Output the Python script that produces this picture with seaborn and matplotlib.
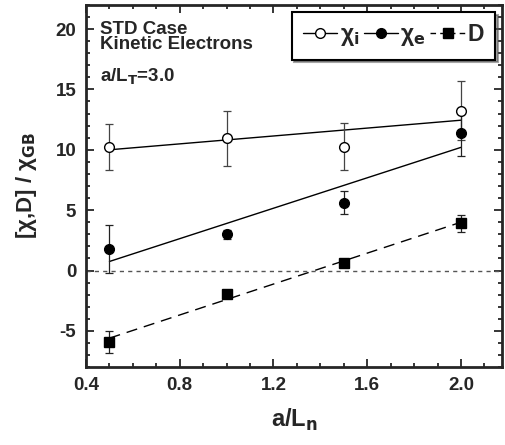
import numpy as np
import pandas as pd
import matplotlib
matplotlib.use("Agg")
import matplotlib.pyplot as plt
from matplotlib.lines import Line2D
from matplotlib.ticker import MultipleLocator
import seaborn as sns

# data
x_pts = [0.5, 1.0, 1.5, 2.0]
chi_i = [10.25, 10.95, 10.25, 13.25]
chi_i_err = [1.9, 2.3, 1.95, 2.45]
chi_e = [1.8, 3.0, 5.6, 11.4]
chi_e_err = [2.0, 0.35, 0.95, 1.9]
dd = [-5.9, -1.95, 0.6, 3.9]
dd_err = [0.9, 0.35, 0.15, 0.7]

x_fit = [0.5, 2.0]
chi_i_fit = [10.0, 12.45]
chi_e_fit = [0.75, 10.2]
dd_fit = [-5.6, 4.0]

sns.set_style("ticks")
plt.rcParams['font.family'] = ['Liberation Sans', 'DejaVu Sans']
plt.rcParams['font.weight'] = 'bold'
plt.rcParams['axes.unicode_minus'] = False

fig = plt.figure(figsize=(5.06, 4.45), dpi=100)
ax = fig.add_axes([0.170, 0.175, 0.822, 0.814])

fits = pd.DataFrame({'x': x_fit * 3,
                     'y': chi_i_fit + chi_e_fit + dd_fit,
                     's': ['i'] * 2 + ['e'] * 2 + ['d'] * 2})
sns.lineplot(data=fits[fits.s == 'i'], x='x', y='y', color='black', lw=1.0, ax=ax)
sns.lineplot(data=fits[fits.s == 'e'], x='x', y='y', color='black', lw=1.0, ax=ax)
sns.lineplot(data=fits[fits.s == 'd'], x='x', y='y', color='black', lw=1.0, ax=ax,
             dashes=False, linestyle=(0, (8, 5)))

ax.axhline(0, color='#555555', lw=1.0, ls=(0, (3, 3)))

ax.errorbar(x_pts, chi_i, yerr=chi_i_err, fmt='o', mfc='white', mec='black',
            ms=7, color='#444444', elinewidth=0.9, capsize=3, capthick=0.9, zorder=3)
ax.errorbar(x_pts, chi_e, yerr=chi_e_err, fmt='o', mfc='black', mec='black',
            ms=7, color='#222222', elinewidth=0.9, capsize=3, capthick=0.9, zorder=3)
ax.errorbar(x_pts, dd, yerr=dd_err, fmt='s', mfc='black', mec='black',
            ms=7, color='#222222', elinewidth=0.9, capsize=3, capthick=0.9, zorder=3)

ax.set_xlim(0.4, 2.175)
ax.set_ylim(-8, 22)
ax.xaxis.set_major_locator(MultipleLocator(0.4))
ax.xaxis.set_minor_locator(MultipleLocator(0.1))
ax.yaxis.set_major_locator(MultipleLocator(5))
ax.yaxis.set_minor_locator(MultipleLocator(1))
ax.set_xticks([0.4, 0.8, 1.2, 1.6, 2.0])
ax.set_xticklabels(['0.4', '0.8', '1.2', '1.6', '2.0'])
ax.tick_params(which='both', direction='in', top=True, right=True,
               labelsize=13.5, width=1.3, pad=7)
ax.tick_params(which='major', length=6)
ax.tick_params(which='minor', length=3)
for sp in ax.spines.values():
    sp.set_linewidth(2)
    sp.set_visible(True)

ax.set_xlabel(r'a/L$_\mathbf{n}$', fontsize=17, fontweight='bold', labelpad=9)
ax.set_ylabel('[χ,D] / χ$_\\mathbf{GB}$', fontsize=16, fontweight='bold', labelpad=12)

ax.text(0.034, 0.955, 'STD Case\nKinetic Electrons', transform=ax.transAxes,
        ha='left', va='top', fontsize=13.5, fontweight='bold', linespacing=0.85)
ax.text(0.034, 0.83, r'a/L$_\mathbf{T}$=3.0', transform=ax.transAxes,
        ha='left', va='top', fontsize=13.5, fontweight='bold')

handles = [
    Line2D([], [], color='black', lw=1, marker='o', mfc='white', mec='black', ms=7),
    Line2D([], [], color='black', lw=1, marker='o', mfc='black', mec='black', ms=7),
    Line2D([], [], color='black', lw=1, ls=(0, (4, 3)), marker='s', mfc='black', mec='black', ms=7),
]
labels = ['χ$_\\mathbf{i}$', 'χ$_\\mathbf{e}$', 'D']
leg = ax.legend(handles, labels, loc='upper right', ncol=3,
                frameon=True, fancybox=False, shadow=True, edgecolor='black',
                handlelength=1.5, handletextpad=0.1, columnspacing=0.2,
                borderpad=0.5, borderaxespad=0.3, prop={'weight': 'bold', 'size': 16.5})
leg.get_frame().set_linewidth(1.5)
leg.get_frame().set_alpha(1)

fig.savefig('out.png', dpi=100)
